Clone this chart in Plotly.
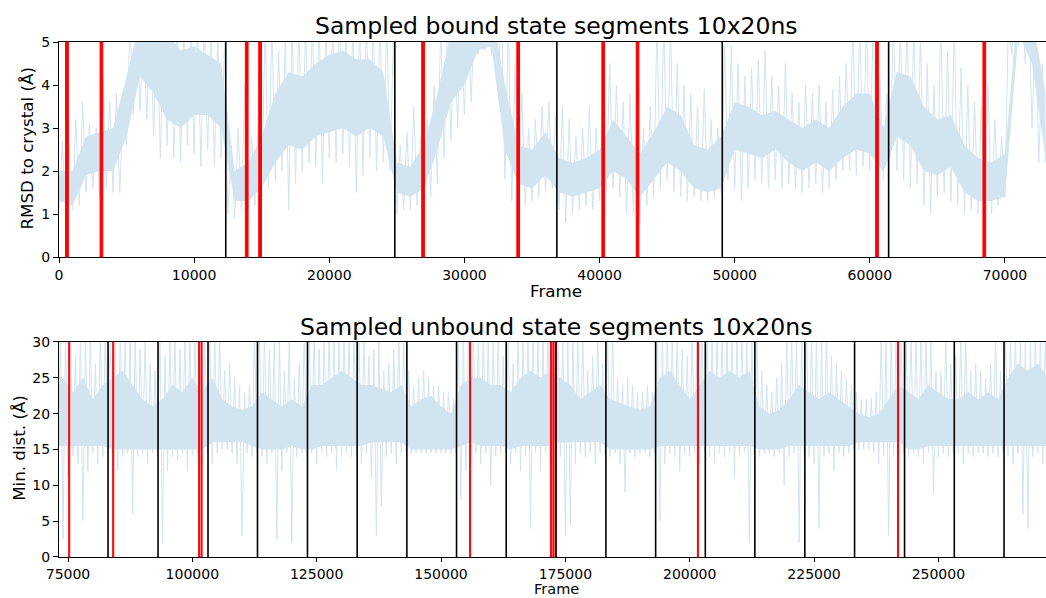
import plotly.graph_objects as go

# ---------------- bound-state trajectory (RMSD to crystal, Å) ----------------
TOP_CORE_STEP = 1000  # frames between dense-band samples
TOP_CORE_LO = [1.3, 1.2, 1.9, 2.0, 2.0, 2.8, 4.2, 3.8, 3.2, 3.0,
               3.3, 3.3, 3.0, 1.3, 1.3, 1.6, 2.2, 2.6, 2.5, 2.8,
               2.9, 3.0, 2.8, 3.0, 2.8, 1.5, 1.4, 1.6, 2.5, 3.6,
               4.0, 4.8, 4.9, 2.5, 1.7, 1.6, 1.9, 1.5, 1.4, 1.5,
               1.6, 2.0, 1.8, 1.4, 1.8, 2.2, 2.0, 1.6, 1.5, 1.6,
               2.5, 2.4, 2.3, 2.5, 2.2, 2.0, 2.2, 2.0, 2.3, 2.5,
               2.4, 2.0, 2.8, 2.6, 2.0, 1.9, 2.1, 1.5, 1.3, 1.3,
               1.4, 5.2, 4.5, 2.3]
TOP_CORE_HI = [2.0, 2.0, 2.8, 2.9, 3.0, 4.2, 5.5, 5.5, 5.2, 4.8,
               4.9, 4.7, 4.5, 2.0, 2.2, 2.8, 3.8, 4.3, 4.2, 4.5,
               4.7, 4.8, 4.6, 4.6, 4.3, 2.2, 2.1, 2.6, 3.8, 5.2,
               5.5, 5.8, 5.8, 4.0, 2.6, 2.5, 2.9, 2.3, 2.2, 2.3,
               2.5, 3.2, 2.8, 2.4, 2.9, 3.5, 3.3, 2.6, 2.5, 2.8,
               3.6, 3.5, 3.3, 3.4, 3.2, 3.0, 3.2, 3.0, 3.5, 3.8,
               3.8, 3.0, 4.3, 4.2, 3.5, 3.2, 3.3, 2.6, 2.3, 2.2,
               2.4, 6.0, 5.6, 3.8]

TOP_PEAK_STEP = 500  # frames between extreme-value samples
TOP_PEAK_HI = [2.7, 2.6, 3.2, 3.6, 3.1, 3.0, 4.2, 3.6, 3.8, 3.5,
               5.5, 5.5, 5.5, 5.5, 5.5, 5.5, 5.5, 5.5, 5.5, 5.5,
               5.5, 5.5, 5.5, 5.2, 5.0, 2.6, 3.0, 4.0, 2.8, 3.3,
               5.5, 5.5, 4.8, 5.2, 5.5, 5.5, 5.5, 5.5, 5.5, 5.5,
               5.5, 5.5, 5.5, 5.5, 5.5, 5.5, 5.5, 5.5, 5.5, 5.2,
               2.6, 2.9, 3.5, 2.8, 3.2, 4.0, 5.5, 5.5, 5.5, 5.5,
               5.5, 5.8, 5.8, 5.8, 5.8, 5.8, 5.5, 4.5, 3.8, 3.0,
               3.2, 3.5, 3.6, 3.3, 3.5, 3.2, 2.8, 3.0, 3.5, 3.0,
               3.5, 4.5, 4.0, 3.6, 3.8, 3.2, 3.0, 3.5, 5.5, 5.5,
               5.5, 4.5, 4.0, 3.8, 3.5, 3.9, 3.2, 3.0, 4.9, 4.9,
               4.5, 4.2, 4.4, 4.6, 4.8, 4.2, 4.0, 4.5, 3.8, 3.6,
               4.0, 3.8, 4.0, 3.6, 3.9, 4.2, 4.5, 5.5, 5.5, 5.5,
               5.5, 4.2, 3.8, 5.5, 5.5, 5.5, 5.5, 5.2, 4.5, 4.0,
               5.5, 4.8, 5.5, 4.4, 4.0, 3.6, 3.5, 4.0, 3.2, 2.8,
               5.5, 6.0, 6.0, 6.0, 5.5, 4.5, 4.2]
TOP_PEAK_LO = [1.1, 1.0, 1.1, 1.2, 1.5, 1.6, 1.4, 1.6, 1.5, 1.5,
               2.6, 3.3, 3.4, 3.2, 2.8, 2.3, 2.6, 2.3, 2.2, 2.6,
               2.4, 2.1, 2.5, 2.1, 2.3, 1.0, 0.9, 1.1, 1.1, 1.2,
               1.3, 1.6, 1.8, 2.0, 1.1, 1.7, 2.0, 2.2, 2.1, 1.7,
               2.3, 2.2, 2.4, 2.1, 1.5, 1.9, 2.3, 2.0, 2.2, 2.0,
               1.0, 1.1, 1.1, 1.2, 1.3, 1.4, 1.7, 2.3, 2.7, 3.0,
               3.3, 3.6, 4.7, 4.8, 4.7, 4.2, 1.8, 1.3, 1.3, 1.2,
               1.3, 1.4, 1.5, 1.6, 1.1, 0.8, 1.0, 1.1, 1.2, 1.1,
               1.3, 1.5, 1.6, 1.4, 1.0, 1.0, 0.8, 1.2, 1.4, 1.6,
               1.8, 1.5, 1.4, 1.3, 1.4, 1.3, 1.3, 1.4, 1.5, 1.8,
               1.6, 1.3, 1.6, 1.8, 1.7, 1.6, 1.8, 1.6, 1.7, 1.6,
               1.5, 1.6, 1.7, 1.5, 1.6, 1.8, 2.0, 2.0, 1.9, 2.1,
               2.0, 1.8, 1.8, 2.3, 2.0, 1.8, 1.6, 1.7, 1.2, 1.0,
               1.4, 1.5, 1.3, 1.2, 1.0, 1.1, 1.0, 1.1, 1.0, 1.2,
               1.4, 4.7, 4.9, 4.5, 3.0, 2.2, 2.2]

BOUND_TRAJ_ENDS = [12340, 24850, 36840, 49080, 61390]
BOUND_SAMPLED_STARTS = [490, 3040, 13790, 14780, 26840, 33880, 40170, 42710, 60430, 68370]

# ---------------- unbound-state trajectory (minimum distance, Å) ----------------
BOT_CORE_START, BOT_CORE_STEP = 72000, 2000
BOT_CORE_LO = [15.5, 15.5, 15.5, 15.5, 15.5, 15.5,
               15, 15, 15, 15, 15,
               15, 15, 15, 15, 15,
               16, 16, 16, 16, 15.5,
               15, 15, 15, 15.5, 15,
               15, 15.5, 15.5, 15.5, 15.5,
               15.5, 16, 16, 16, 16,
               15, 15, 15, 15, 15,
               15.5, 16, 15.5, 15.5, 15.5,
               15, 15.5, 15.5, 15.5, 15.5,
               16, 16, 16, 16, 16,
               15, 15, 15, 15, 15,
               15.5, 15.5, 15.5, 15.5, 15.5,
               15.5, 15.5, 15.5, 15.5, 15.5,
               15, 15, 15, 15.5, 15.5,
               15.5, 15.5, 15.5, 15.5, 15.5,
               16, 16, 16, 16, 16,
               15, 15, 15.5, 15.5, 15.5,
               15.5, 15.5, 15.5, 15.5, 15.5,
               15.5, 15.5, 15.5, 15.5, 15.5]
BOT_CORE_HI = [26, 25, 23, 25, 22, 24,
               25, 26, 24, 22, 21,
               22, 24, 23, 25, 23,
               25, 22, 21, 20.5, 21,
               23, 22, 21, 22, 21,
               24, 24, 25, 26, 25,
               24, 24, 23.5, 23, 24,
               21, 22, 22.5, 21, 20,
               24, 25, 25, 24, 24,
               23, 25, 26, 25, 26,
               25, 24, 22, 23, 24,
               22, 21.5, 21, 20.5, 21,
               25, 26, 24, 22, 24,
               26, 25, 26, 25, 26,
               21, 20, 20.5, 22, 24,
               23, 22, 23, 22, 21,
               20, 19.5, 20, 22, 24,
               23, 22, 24, 23, 22,
               22, 23, 22, 23, 22,
               25, 27, 26, 27, 25]

BOT_PEAK_START, BOT_PEAK_STEP = 73000, 1000
BOT_PEAK_HI = [31, 31, 31, 28, 31, 31, 31, 27, 31, 31,
               31, 31, 31, 31, 31, 31, 29, 31, 27, 26,
               31, 28, 31, 31, 29, 31, 31, 31, 28, 31,
               31, 31, 31, 26, 27, 25, 24, 23, 24, 31,
               31, 31, 29, 31, 31, 26, 31, 25, 27, 31,
               31, 31, 29, 31, 31, 31, 31, 31, 31, 31,
               31, 31, 28, 29, 31, 26, 27, 29, 31, 31,
               26, 24, 25, 26, 25, 24, 24, 23, 23, 22,
               31, 31, 31, 31, 31, 31, 31, 31, 31, 28,
               31, 27, 31, 31, 31, 31, 31, 31, 31, 31,
               31, 31, 31, 31, 31, 31, 26, 28, 31, 27,
               31, 31, 25, 24, 25, 24, 23, 23, 24, 23,
               31, 31, 31, 31, 31, 29, 28, 31, 31, 31,
               31, 31, 31, 31, 31, 31, 31, 31, 31, 31,
               31, 26, 24, 23, 25, 27, 31, 31, 31, 31,
               31, 31, 31, 31, 31, 28, 27, 26, 25, 24,
               23, 22, 22, 22, 23, 31, 31, 31, 31, 31,
               31, 31, 31, 31, 31, 31, 26, 26, 31, 27,
               28, 31, 31, 26, 27, 26, 25, 27, 31, 26,
               31, 31, 31, 31, 31, 31, 31, 31, 31, 31]
BOT_PEAK_LO = [12, 2.5, 11, 14, 13, 5, 12, 14.5, 13, 14,
               14.5, 13, 12, 14, 14.5, 6, 14, 14.5, 13, 14.5,
               14, 2, 12, 14, 13.5, 14.5, 12, 14, 14.5, 13,
               14.5, 13, 14.5, 15, 15, 14.5, 13, 3, 14.5, 14,
               14.5, 14, 13, 14.5, 2.5, 12, 14.5, 2, 14, 14.5,
               14, 14.5, 13, 14.5, 14, 14.5, 12, 14, 14.5, 14,
               14, 13, 14.5, 11, 3, 7, 14, 14.5, 13, 14.5,
               14.5, 14.5, 14.5, 14.5, 14.5, 14.5, 14.5, 14.5, 14.5, 14.5,
               14.5, 8, 12, 14, 14.5, 13, 14.5, 10, 14, 14.5,
               14.5, 13, 14.5, 12, 14, 4, 14.5, 12, 14.5, 13,
               14.5, 14, 3, 4.5, 13, 14.5, 14, 14.5, 13, 14.5,
               14.5, 14, 14.5, 13, 9, 14.5, 14, 14.5, 14.5, 14,
               14.5, 5, 13, 14.5, 14, 12, 14.5, 14, 14.5, 13,
               14.5, 14, 13, 14.5, 14, 14.5, 11, 14, 14.5, 2,
               14.5, 14, 14.5, 14.5, 14, 14.5, 10, 14, 14.5, 2,
               14.5, 14, 13, 4, 14, 14.5, 12, 14.5, 14, 14.5,
               15, 15, 15, 15, 14.5, 13, 14, 3, 14, 13,
               14.5, 14, 14.5, 14, 13, 14.5, 9, 14, 14.5, 14,
               14.5, 14.5, 13, 14.5, 14, 14.5, 14.5, 14, 14.5, 14,
               14.5, 14, 13, 14.5, 6, 4, 14, 14.5, 13, 14.5]

UNBOUND_TRAJ_ENDS = [83050, 93100, 103150, 113100, 123150, 133140, 143130, 153120,
                     163110, 173100, 183150, 193150, 203140, 213100, 223150, 233150,
                     243200, 253200, 263200]
UNBOUND_SAMPLED_STARTS = [75140, 83990, 101260, 101760, 155750,
                          172000, 172500, 172950, 201550, 241800]

SEGMENT_FRAMES = 200          # 20 ns per sampled segment
TOP_XRANGE = [0, 73035]
BOT_XRANGE = [73190, 271640]

TRACE_COLOR = "#d2e4f0"
FONT = "DejaVu Sans"


def grid(start, step, n):
    return [start + step * i for i in range(n)]


def zigzag(start, step, lo, hi):
    """Alternate each bin's low and high extreme so the line sweeps the bin's range."""
    xs, ys = [], []
    for i, (a, b) in enumerate(zip(lo, hi)):
        f = start + step * i
        xs += [f, f + step / 2]
        ys += [a, b]
    return xs, ys


fig = go.Figure()


def add_series(xa, ya, core_start, core_step, core_lo, core_hi,
               peak_start, peak_step, peak_lo, peak_hi):
    cx = grid(core_start, core_step, len(core_lo))
    fig.add_trace(go.Scatter(x=cx, y=core_lo, mode="lines", line=dict(width=0),
                             xaxis=xa, yaxis=ya, showlegend=False, hoverinfo="skip"))
    fig.add_trace(go.Scatter(x=cx, y=core_hi, mode="lines", line=dict(width=0),
                             fill="tonexty", fillcolor=TRACE_COLOR,
                             xaxis=xa, yaxis=ya, showlegend=False, hoverinfo="skip"))
    zx, zy = zigzag(peak_start, peak_step, peak_lo, peak_hi)
    fig.add_trace(go.Scatter(x=zx, y=zy, mode="lines", line=dict(width=1, color=TRACE_COLOR),
                             xaxis=xa, yaxis=ya, showlegend=False, hoverinfo="skip"))


add_series("x", "y", 0, TOP_CORE_STEP, TOP_CORE_LO, TOP_CORE_HI,
           0, TOP_PEAK_STEP, TOP_PEAK_LO, TOP_PEAK_HI)
add_series("x2", "y2", BOT_CORE_START, BOT_CORE_STEP, BOT_CORE_LO, BOT_CORE_HI,
           BOT_PEAK_START, BOT_PEAK_STEP, BOT_PEAK_LO, BOT_PEAK_HI)

shapes = []
for xr, yr, starts, ends in [("x", "y domain", BOUND_SAMPLED_STARTS, BOUND_TRAJ_ENDS),
                             ("x2", "y2 domain", UNBOUND_SAMPLED_STARTS, UNBOUND_TRAJ_ENDS)]:
    for s in starts:
        shapes.append(dict(type="rect", xref=xr, yref=yr, x0=s, x1=s + SEGMENT_FRAMES, y0=0, y1=1,
                           fillcolor="#ff0000", line=dict(color="#ff0000", width=1)))
    for e in ends:
        shapes.append(dict(type="line", xref=xr, yref=yr, x0=e, x1=e, y0=0, y1=1,
                           line=dict(color="black", width=1.6)))

axis_common = dict(showgrid=False, zeroline=False, showline=True, linecolor="black", linewidth=1,
                   ticks="outside", tickwidth=1, tickcolor="black",
                   tickfont=dict(family=FONT, size=14, color="black"))

fig.update_layout(
    width=1046, height=598,
    margin=dict(l=59, r=0, t=42, b=41),
    paper_bgcolor="white", plot_bgcolor="white",
    font=dict(family=FONT, color="black"),
    shapes=shapes,
    xaxis=dict(domain=[0, 1], anchor="y", range=TOP_XRANGE, tick0=0, dtick=10000,
               tickformat="d", mirror=True, ticklen=5, **axis_common),
    yaxis=dict(domain=[0.5825, 1], anchor="x", range=[0, 5], tick0=0, dtick=1,
               ticklen=5, **axis_common),
    xaxis2=dict(domain=[0, 1], anchor="y2", range=BOT_XRANGE, tick0=0, dtick=25000,
                tickformat="d", mirror=True, ticklen=4, **axis_common),
    yaxis2=dict(domain=[0, 0.4175], anchor="x2", range=[0, 30], tick0=0, dtick=5,
                ticklen=5, **axis_common),
)


def label(text, x, y, size, angle=0, yanchor="middle"):
    fig.add_annotation(text=text, x=x, y=y, xref="paper", yref="paper", showarrow=False,
                       xanchor="center", yanchor=yanchor, textangle=angle, borderpad=0,
                       font=dict(family=FONT, size=size, color="black"))


label("Sampled bound state segments 10x20ns", 0.504, 1.031, 23.5)
label("Sampled unbound state segments 10x20ns", 0.504, 0.4475, 23.5)
label("Frame", 0.504, 0.517, 16.7)
label("Frame", 0.504, -0.0795, 14.5, yanchor="bottom")
label("RMSD to crystal (Å)", -0.0319, 0.794, 16.7, angle=-90)
label("Min. dist. (Å)", -0.0405, 0.212, 16.7, angle=-90)

fig.write_html("out.html")
